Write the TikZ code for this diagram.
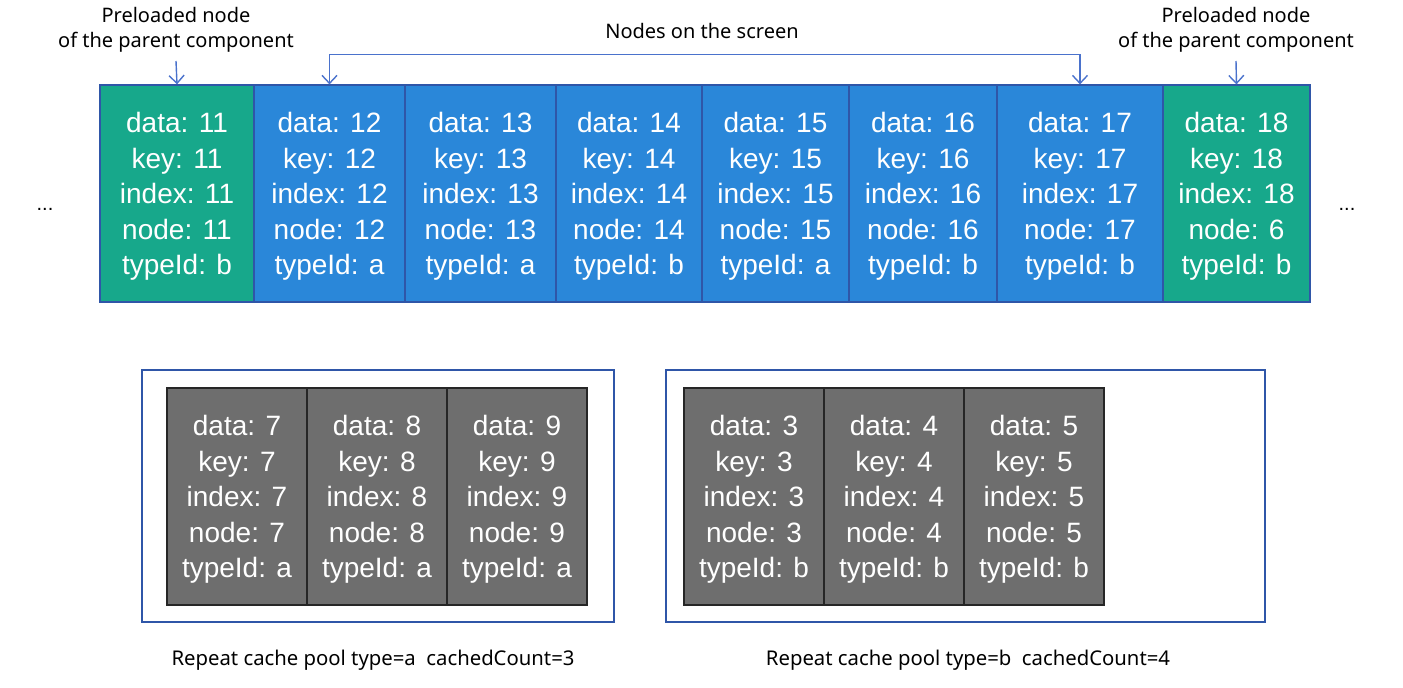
\documentclass[tikz,border=0pt]{standalone}
\usepackage{fontspec}
\setmainfont{Liberation Sans}
\newfontfamily\labelfont{Noto Sans}
\usetikzlibrary{arrows.meta}
\definecolor{cgreen}{HTML}{17A88B}
\definecolor{cblue}{HTML}{2A87D9}
\definecolor{cborder}{HTML}{2F56A8}
\definecolor{cgrey}{HTML}{6E6E6E}
\definecolor{carrow}{HTML}{4A72CC}
\tikzset{
  cell/.style={draw=cborder, line width=1.2pt, text=white, align=center,
    font=\fontsize{28}{35.6}\selectfont, inner sep=0pt, minimum height=217pt},
  greycell/.style={draw=black!85, line width=1.5pt, fill=cgrey, text=white, align=center,
    font=\fontsize{28}{35.6}\selectfont, inner sep=0pt, minimum height=217pt, minimum width=140pt},
  pool/.style={draw=cborder, line width=1.2pt, inner sep=0pt},
  lbl/.style={font=\labelfont\fontsize{20}{25}\selectfont, align=center, inner sep=0pt},
  captext/.style={font=\labelfont\fontsize{20.3}{24}\selectfont, inner sep=0pt},
  arr/.style={draw=carrow, line width=1.4pt, -{Straight Barb[length=8pt,width=15pt,line width=1.4pt]}},
}
\newcommand{\cellt}[5]{\raisebox{-3pt}[\height][\depth]{\begin{tabular}{@{}c@{}}data: #1\\key: #2\\index: #3\\node: #4\\typeId: #5\end{tabular}}}
\begin{document}
\begin{tikzpicture}[x=1pt,y=-1pt]
\useasboundingbox (0,0) rectangle (1403,688);
% top row
\node[cell, fill=cgreen, minimum width=154pt] (c11) at (177,193.5) {\cellt{11}{11}{11}{11}{b}};
\node[cell, fill=cblue, minimum width=151pt] (c12) at (329.5,193.5) {\cellt{12}{12}{12}{12}{a}};
\node[cell, fill=cblue, minimum width=151pt] (c13) at (480.5,193.5) {\cellt{13}{13}{13}{13}{a}};
\node[cell, fill=cblue, minimum width=146pt] (c14) at (629,193.5) {\cellt{14}{14}{14}{14}{b}};
\node[cell, fill=cblue, minimum width=147pt] (c15) at (775.5,193.5) {\cellt{15}{15}{15}{15}{a}};
\node[cell, fill=cblue, minimum width=148pt] (c16) at (923,193.5) {\cellt{16}{16}{16}{16}{b}};
\node[cell, fill=cblue, minimum width=166pt] (c17) at (1080,193.5) {\cellt{17}{17}{17}{17}{b}};
\node[cell, fill=cgreen, minimum width=147pt] (c18) at (1236.5,193.5) {\cellt{18}{18}{18}{6}{b}};
\node[font=\fontsize{20}{24}\selectfont, inner sep=0pt] (dl) at (45,209) {...};
\node[font=\fontsize{20}{24}\selectfont, inner sep=0pt] (dr) at (1347,209) {...};
% labels
\node[lbl] (pl) at (176,29.5) {Preloaded node\\of the parent component};
\node[lbl] (pr) at (1236,29.5) {Preloaded node\\of the parent component};
\node[lbl] (ns) at (702,31) {Nodes on the screen};
\coordinate (plb) at (176,61);
\coordinate (prb) at (1236,61);
\draw[arr] (plb) -- (c11.north);
\draw[arr] (prb) -- (c18.north);
\coordinate (a1) at ([yshift=30pt]c12.north);
\draw[arr] (a1) -- (c12.north);
\draw[arr] (a1) -| (c17.north);
% pools
\node[pool, minimum width=472pt, minimum height=252pt] (poolA) at (378,496) {};
\node[pool, minimum width=599pt, minimum height=252pt] (poolB) at (965.5,496) {};
\node[greycell] (g7) at (237,496.5) {\cellt{7}{7}{7}{7}{a}};
\node[greycell] (g8) at (377,496.5) {\cellt{8}{8}{8}{8}{a}};
\node[greycell] (g9) at (517,496.5) {\cellt{9}{9}{9}{9}{a}};
\node[greycell] (g3) at (754,496.5) {\cellt{3}{3}{3}{3}{b}};
\node[greycell] (g4) at (894,496.5) {\cellt{4}{4}{4}{4}{b}};
\node[greycell] (g5) at (1034,496.5) {\cellt{5}{5}{5}{5}{b}};
\node[captext] (capA) at (373,660) {Repeat cache pool type=a\ \ cachedCount=3};
\node[captext] (capB) at (968,660) {Repeat cache pool type=b\ \ cachedCount=4};
\end{tikzpicture}
\end{document}
